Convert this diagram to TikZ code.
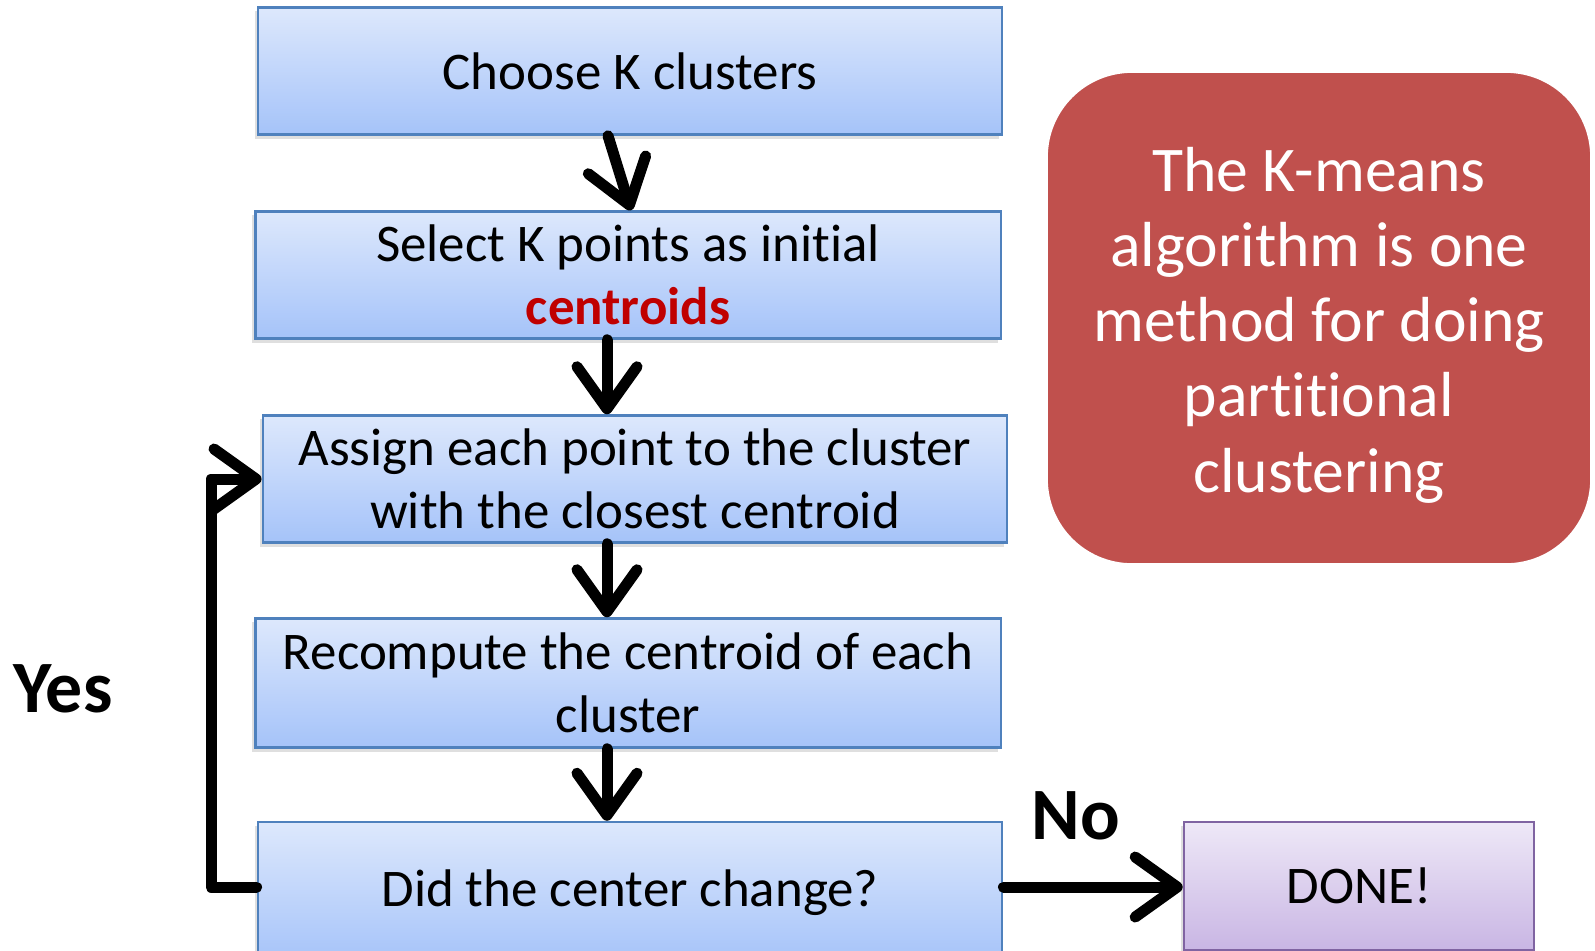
\documentclass[tikz,border=0pt]{standalone}
\usepackage{fontspec}
\setmainfont{Carlito}[Ligatures={NoCommon}]
\usetikzlibrary{arrows.meta,shadows}
\definecolor{boxtop}{HTML}{DDE8FC}
\definecolor{boxbot}{HTML}{A5C3F9}
\definecolor{boxline}{HTML}{4F81BD}
\definecolor{donetop}{HTML}{EEE8F7}
\definecolor{donebot}{HTML}{C9B6E4}
\definecolor{doneline}{HTML}{8064A2}
\definecolor{notefill}{HTML}{C0504D}
\definecolor{keyred}{HTML}{C00000}
\begin{document}
\begin{tikzpicture}[x=0.01cm,y=-0.01cm,
  stepbox/.style={draw=boxline, line width=0.7pt, top color=boxtop, bottom color=boxbot,
    minimum width=7.44cm, minimum height=1.27cm, align=center, inner sep=0pt,
    font=\fontsize{15.05}{17.9}\selectfont,
    drop shadow={opacity=0.25, shadow xshift=-0.03cm, shadow yshift=-0.04cm}},
  donebox/.style={stepbox, draw=doneline, top color=donetop, bottom color=donebot,
    minimum width=3.5cm, minimum height=1.28cm},
  notebox/.style={fill=notefill, draw=white, line width=0.12cm, rounded corners=0.9cm,
    minimum width=5.54cm, minimum height=5.02cm, text=white, align=center, inner sep=0pt,
    font=\fontsize{18.1}{21.4}\selectfont,
    drop shadow={opacity=0.3, shadow xshift=0.03cm, shadow yshift=-0.04cm}},
  answer/.style={font=\fontsize{21}{25}\selectfont\bfseries, inner sep=0pt},
  arr/.style={line width=0.11cm, line join=round, line cap=round,
    -{Straight Barb[length=0.42cm, width=0.6cm, round]}}
]
\useasboundingbox (0,0) rectangle (1595,950);

\node[stepbox] (b1) at (630,71) {Choose K clusters};
\node[stepbox, minimum width=7.45cm] (b2) at (628,275) {Select K points as initial\\\textcolor{keyred}{\bfseries centroids}};
\node[stepbox] (b3) at (635,479) {Assign each point to the cluster\\with the closest centroid};
\node[stepbox, minimum width=7.45cm, minimum height=1.29cm] (b4) at (628,683) {Recompute the centroid of each\\cluster};
\node[stepbox, minimum height=1.42cm] (b5) at (630,893) {Did the center change?};
\node[donebox] (done) at (1359,886) {DONE!};

\node[notebox] (note) at (1319,318) {\rule{0pt}{16.5pt}The K-means\\algorithm is one\\method for doing\\partitional\\clustering};

\node[answer] (yes) at (63,689) {Yes};
\node[answer] (no) at (1076,816) {No};

\coordinate (ax) at (607,0);
\coordinate (lx) at (211,0);
\coordinate (ly) at (0,887);

\draw[arr] ([xshift=-0.22cm]b1.south) -- ([xshift=0.03cm]b2.north);
\draw[arr] (b2.south -| ax) -- (b3.north -| ax);
\draw[arr] (b3.south -| ax) -- (b4.north -| ax);
\draw[arr] (b4.south -| ax) -- (b5.north -| ax);
\draw[arr] (b5.west |- ly) -- (lx |- ly) -- (b3.west -| lx) -- (b3.west);
\draw[arr] (b5.east |- ly) -- (done.west |- ly);
\end{tikzpicture}
\end{document}
